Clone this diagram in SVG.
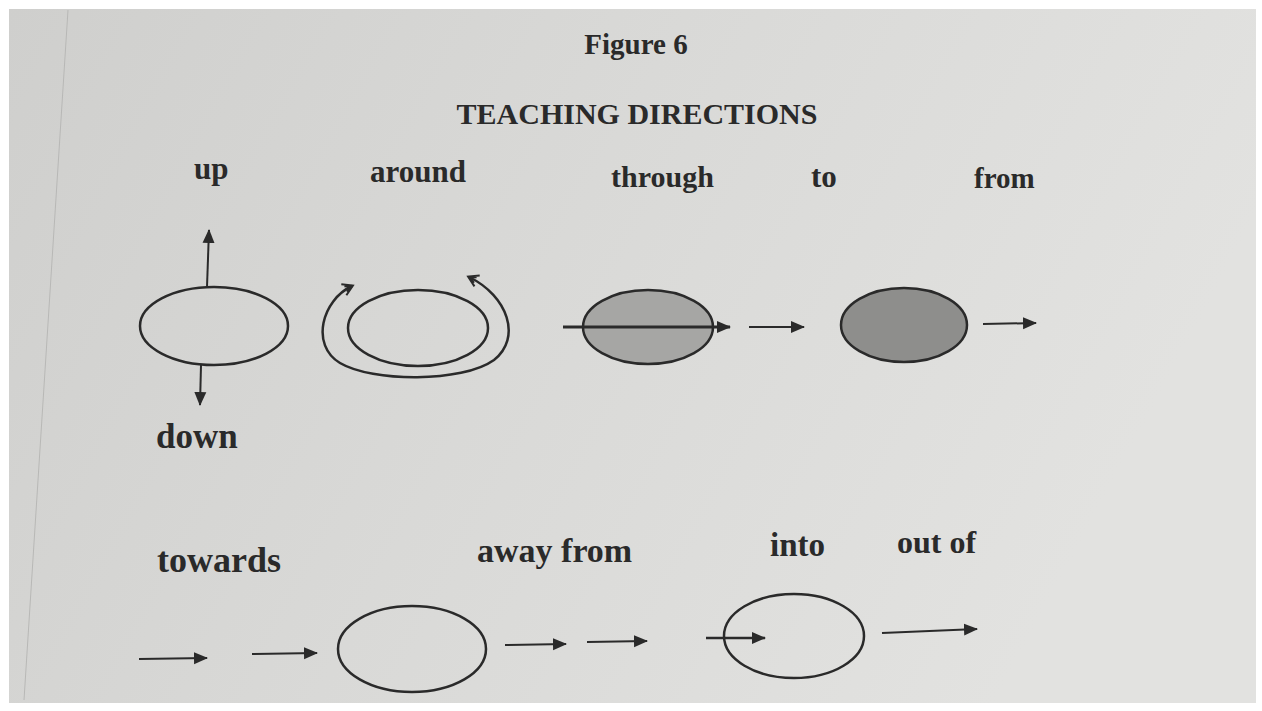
<svg xmlns="http://www.w3.org/2000/svg" width="1262" height="711" viewBox="0 0 1262 711">
<defs>
<linearGradient id="paper" x1="0" y1="0" x2="1" y2="0.3">
<stop offset="0" stop-color="#cfcfcd"/>
<stop offset="0.5" stop-color="#d9d9d7"/>
<stop offset="1" stop-color="#e2e2e0"/>
</linearGradient>
<marker id="tri" markerUnits="userSpaceOnUse" markerWidth="16" markerHeight="14" refX="13" refY="7" orient="auto">
<path d="M0,1 L14,7 L0,13 Z" fill="#2a2a2a"/>
</marker>
<marker id="open" markerUnits="userSpaceOnUse" markerWidth="16" markerHeight="16" refX="10" refY="8" orient="auto-start-reverse">
<path d="M1,2 L11,8 L1,14 M3,5 L9,8 L3,11" fill="none" stroke="#2a2a2a" stroke-width="2"/>
</marker>
</defs>
<style>
.t{font-family:"Liberation Serif","Times New Roman",serif;font-weight:bold;fill:#2a2a2a}
.o{fill:none;stroke:#2a2a2a;stroke-width:2.5}
.a{stroke:#2a2a2a;stroke-width:2;fill:none;marker-end:url(#tri)}
</style>
<rect width="1262" height="711" fill="#ffffff"/>
<rect x="9" y="9" width="1247" height="694" fill="url(#paper)"/>
<line x1="68" y1="10" x2="24" y2="700" stroke="#b8b8b6" stroke-width="1"/>

<g id="titles">
<text class="t" x="636" y="54" font-size="29" text-anchor="middle">Figure 6</text>
<text class="t" x="637" y="124" font-size="30" text-anchor="middle">TEACHING DIRECTIONS</text>
</g>

<g id="up-down">
<text class="t" x="194" y="179" font-size="31">up</text>
<ellipse class="o" cx="214" cy="326" rx="74" ry="39"/>
<line class="a" x1="207" y1="287" x2="209" y2="230"/>
<line class="a" x1="201" y1="365" x2="200" y2="405"/>
<text class="t" x="156" y="448" font-size="35">down</text>
</g>

<g id="around">
<text class="t" x="370" y="182" font-size="31">around</text>
<ellipse class="o" cx="418" cy="328" rx="70" ry="38"/>
<path d="M352,286 C322,300 310,345 340,363 C372,382 462,383 494,360 C522,338 508,296 469,277" fill="none" stroke="#2a2a2a" stroke-width="2.5" marker-start="url(#open)" marker-end="url(#open)"/>
</g>

<g id="through">
<text class="t" x="611" y="187" font-size="30">through</text>
<ellipse cx="648" cy="327" rx="65" ry="37" fill="#a6a6a4" stroke="#2a2a2a" stroke-width="2.5"/>
<line x1="563" y1="327" x2="730" y2="327" stroke="#2a2a2a" stroke-width="3" marker-end="url(#tri)"/>
</g>

<g id="to">
<text class="t" x="811" y="187" font-size="31">to</text>
<line class="a" x1="749" y1="327" x2="804" y2="327"/>
<ellipse cx="904" cy="325" rx="63" ry="37" fill="#8e8e8c" stroke="#2a2a2a" stroke-width="2.5"/>
</g>

<g id="from">
<text class="t" x="974" y="188" font-size="29">from</text>
<line class="a" x1="983" y1="324" x2="1036" y2="323"/>
</g>

<g id="towards">
<text class="t" x="157" y="572" font-size="36">towards</text>
<line class="a" x1="139" y1="659" x2="207" y2="658"/>
<line class="a" x1="252" y1="654" x2="317" y2="653"/>
<ellipse class="o" cx="412" cy="649" rx="74" ry="43"/>
</g>

<g id="away-from">
<text class="t" x="477" y="562" font-size="34">away from</text>
<line class="a" x1="505" y1="645" x2="566" y2="644"/>
<line class="a" x1="587" y1="642" x2="647" y2="641"/>
</g>

<g id="into">
<text class="t" x="770" y="556" font-size="33">into</text>
<ellipse class="o" cx="794" cy="636" rx="70" ry="42"/>
<line x1="706" y1="638" x2="765" y2="638" stroke="#2a2a2a" stroke-width="2.5" marker-end="url(#tri)"/>
</g>

<g id="out-of">
<text class="t" x="897" y="553" font-size="32">out of</text>
<line class="a" x1="882" y1="633" x2="977" y2="629"/>
</g>
</svg>
